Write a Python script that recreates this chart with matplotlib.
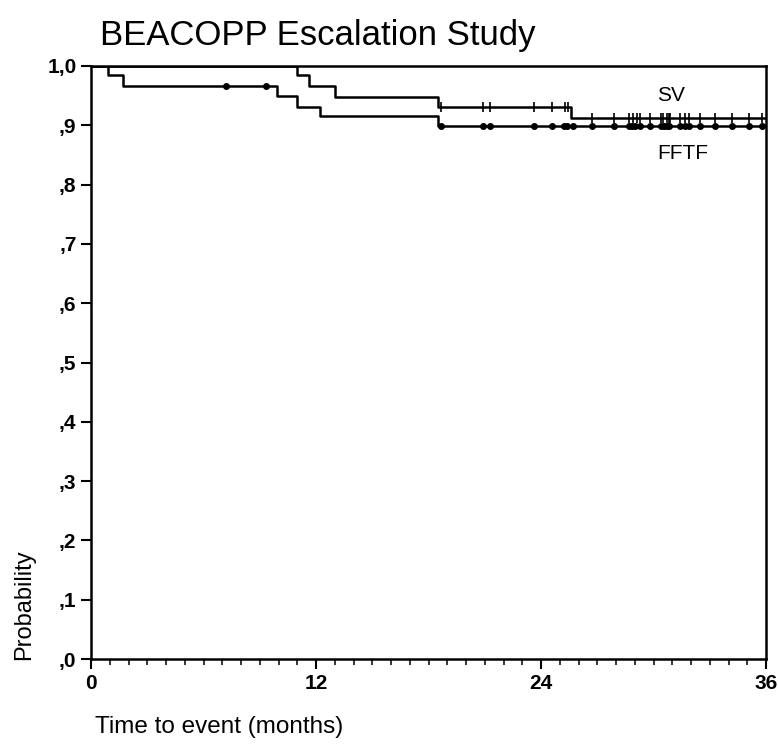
import numpy as np
import matplotlib.pyplot as plt
from matplotlib.ticker import MultipleLocator

plt.rcParams['font.family'] = ['Liberation Sans', 'DejaVu Sans']

# step curves (time in months, survival after the step)
sv_t = [0, 11.0, 11.6, 13.0, 18.5, 25.6]
sv_s = [1.0, 0.985, 0.966, 0.948, 0.931, 0.912]
fftf_t = [0, 0.9, 1.7, 9.9, 11.0, 12.2, 18.5]
fftf_s = [1.0, 0.985, 0.966, 0.949, 0.931, 0.915, 0.898]

# censored observations
sv_cens = [18.65, 20.9, 21.3, 23.6, 24.6, 25.3, 25.45, 26.7, 27.9, 28.7, 28.9,
           29.1, 29.3, 29.8, 30.4, 30.5, 30.7, 30.8, 30.9, 31.4, 31.7, 31.9,
           32.5, 33.3, 34.2, 35.1, 35.8]
fftf_cens = [7.2, 9.35, 18.65, 20.9, 21.3, 23.6, 24.6, 25.2, 25.4, 25.7, 26.7,
             27.9, 28.7, 28.85, 29.0, 29.3, 29.8, 30.4, 30.55, 30.7, 30.8, 31.4,
             31.7, 31.9, 32.5, 33.3, 34.2, 35.1, 35.8]

x_ticks = [0, 12, 24, 36]
y_ticks = [0.0, 0.1, 0.2, 0.3, 0.4, 0.5, 0.6, 0.7, 0.8, 0.9, 1.0]
y_labels = [',0', ',1', ',2', ',3', ',4', ',5', ',6', ',7', ',8', ',9', '1,0']


def step_value(times, surv, x):
    idx = np.searchsorted(times, x, side='right') - 1
    return np.array(surv)[idx]


fig = plt.figure(figsize=(7.78, 7.44), dpi=100)
ax = fig.add_axes([0.117, 0.1142, 0.8676, 0.7971])

for t, s, cens, mk in [(sv_t, sv_s, sv_cens, '|'), (fftf_t, fftf_s, fftf_cens, 'o')]:
    tt = list(t) + [36]
    ss = list(s) + [s[-1]]
    ax.step(tt, ss, where='post', color='black', lw=1.8)
    cy = step_value(t, s, np.array(cens))
    if mk == 'o':
        ax.plot(cens, cy, 'o', color='black', ms=4, mfc='black')
    else:
        ax.plot(cens, cy, '|', color='black', ms=7, mew=1.2)

ax.set_xlim(0, 36)
ax.set_ylim(0, 1.0)
ax.set_xticks(x_ticks)
ax.xaxis.set_minor_locator(MultipleLocator(1))
ax.set_yticks(y_ticks)
ax.set_yticklabels(y_labels)
ax.tick_params(axis='both', which='major', labelsize=15, width=1.5, length=7,
               direction='out')
ax.tick_params(axis='x', which='minor', length=4, width=1.1)
for lab in ax.get_xticklabels() + ax.get_yticklabels():
    lab.set_fontweight('bold')
for sp in ax.spines.values():
    sp.set_linewidth(1.8)

ax.text(30.2, 0.951, 'SV', fontsize=15, va='center')
ax.text(30.2, 0.852, 'FFTF', fontsize=15, va='center')

fig.text(100 / 778, 1 - 36 / 744, 'BEACOPP Escalation Study', fontsize=25,
         va='center', ha='left')
fig.text(95 / 778, 1 - 733 / 744, 'Time to event (months)', fontsize=17.5,
         va='baseline', ha='left')
fig.text(24 / 778, 1 - 660 / 744, 'Probability', fontsize=17, rotation=90,
         va='bottom', ha='center')

fig.savefig('out.png', dpi=100)
